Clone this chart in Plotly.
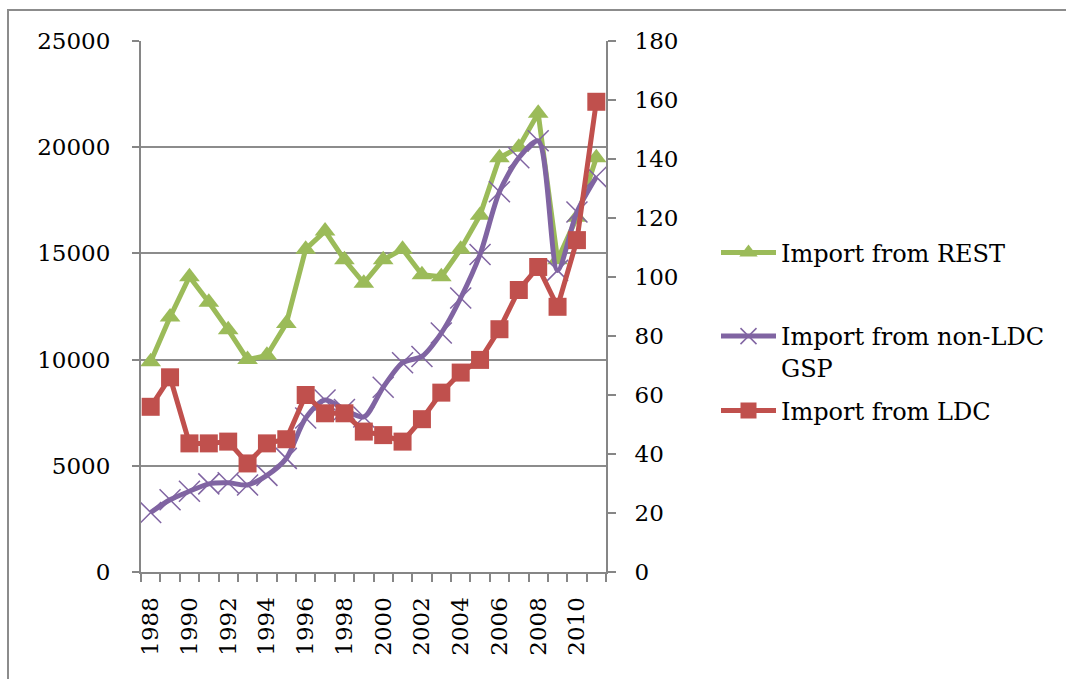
import plotly.graph_objects as go

# Years and import values
years = list(range(1988, 2012))
rest = [9900, 12000, 13900, 12700, 11400, 10000, 10200, 11700, 15200, 16050,
        14700, 13600, 14700, 15200, 14000, 13900, 15200, 16800, 19500, 20000,
        21600, 14700, 16700, 19500]
non_ldc_gsp = [2800, 3400, 3800, 4150, 4200, 4100, 4550, 5350, 7250, 8100,
               7650, 7300, 8700, 9850, 10150, 11250, 12900, 14950, 17900, 19500,
               20300, 14200, 16950, 18600]
ldc = [56.0, 66.0, 43.6, 43.6, 44.2, 36.8, 43.6, 45.0, 60.0, 53.8,
       53.8, 47.6, 46.4, 44.2, 51.8, 60.8, 67.6, 71.9, 82.3, 95.6,
       103.4, 89.9, 112.5, 159.4]

left_ticks = [0, 5000, 10000, 15000, 20000, 25000]
right_ticks = list(range(0, 181, 20))
label_years = list(range(1988, 2011, 2))

GREEN = "#9BBB59"
PURPLE = "#8064A2"
RED = "#C0504D"
AXIS = "#868686"
FONT = "DejaVu Serif"

# plot area in pixels
L, R, T, B = 141, 606, 41, 572
W, H = 1066, 679
PW, PH = R - L, B - T


def px(x):
    return (x - L) / PW


def py(y):
    return (B - y) / PH


fig = go.Figure()

fig.add_trace(go.Scatter(
    x=years, y=rest, name="Import from REST", mode="lines+markers",
    line=dict(color=GREEN, width=5),
    marker=dict(symbol="triangle-up", size=18, color=GREEN),
    legend="legend",
))
fig.add_trace(go.Scatter(
    x=years, y=non_ldc_gsp, name="Import from non-LDC<br>GSP", mode="lines+markers",
    line=dict(color=PURPLE, width=5, shape="spline", smoothing=0.8),
    marker=dict(symbol="x-thin", size=21, color=PURPLE,
                line=dict(color=PURPLE, width=1.5)),
    legend="legend2",
))
fig.add_trace(go.Scatter(
    x=years, y=ldc, name="Import from LDC", mode="lines+markers",
    line=dict(color=RED, width=5),
    marker=dict(symbol="square", size=18, color=RED),
    yaxis="y2", legend="legend3",
))

tick_font = dict(family=FONT, size=23, color="black")
legend_common = dict(font=dict(family=FONT, size=24, color="black"),
                     bgcolor="rgba(0,0,0,0)", xanchor="left",
                     itemwidth=55, itemsizing="trace", tracegroupgap=0)

fig.update_layout(
    width=W, height=H,
    margin=dict(l=L, r=W - R, t=T, b=H - B),
    paper_bgcolor="white", plot_bgcolor="white",
    showlegend=True,
    xaxis=dict(
        range=[1987.5, 2011.5], tickmode="array", tickvals=label_years,
        ticktext=[str(v) for v in label_years], tickangle=-90, ticks="",
        tickfont=tick_font, ticklabelstandoff=14,
        showline=True, linecolor=AXIS, linewidth=2, showgrid=False,
        zeroline=False,
        minor=dict(tickmode="linear", tick0=1987.5, dtick=1, ticks="outside",
                   ticklen=8, tickcolor=AXIS, tickwidth=2, showgrid=False),
    ),
    yaxis=dict(
        range=[0, 25000], tickmode="array", tickvals=left_ticks,
        ticktext=[str(v) for v in left_ticks],
        tickfont=tick_font, ticks="outside", ticklen=7, tickcolor=AXIS,
        tickwidth=2, ticklabelstandoff=17,
        showline=True, linecolor=AXIS, linewidth=2,
        showgrid=True, gridcolor="#8C8C8C", gridwidth=1.5, zeroline=False,
    ),
    yaxis2=dict(
        range=[0, 180], tickmode="array", tickvals=right_ticks,
        ticktext=[str(v) for v in right_ticks],
        overlaying="y", side="right",
        tickfont=tick_font, ticks="outside", ticklen=8, tickcolor=AXIS,
        tickwidth=2, ticklabelstandoff=14,
        showline=True, linecolor=AXIS, linewidth=2,
        showgrid=False, zeroline=False,
    ),
    legend=dict(x=px(716), y=py(253), yanchor="middle", **legend_common),
    legend2=dict(x=px(716), y=py(314), yanchor="top", valign="top", **legend_common),
    legend3=dict(x=px(716), y=py(411), yanchor="middle", **legend_common),
)

# Outer chart frame
fig.add_shape(type="rect", xref="paper", yref="paper",
              x0=px(8), x1=px(1075), y0=py(10), y1=py(690),
              line=dict(color="#8C8C8C", width=2), fillcolor="rgba(0,0,0,0)",
              layer="below")

fig.write_html("out.html")
